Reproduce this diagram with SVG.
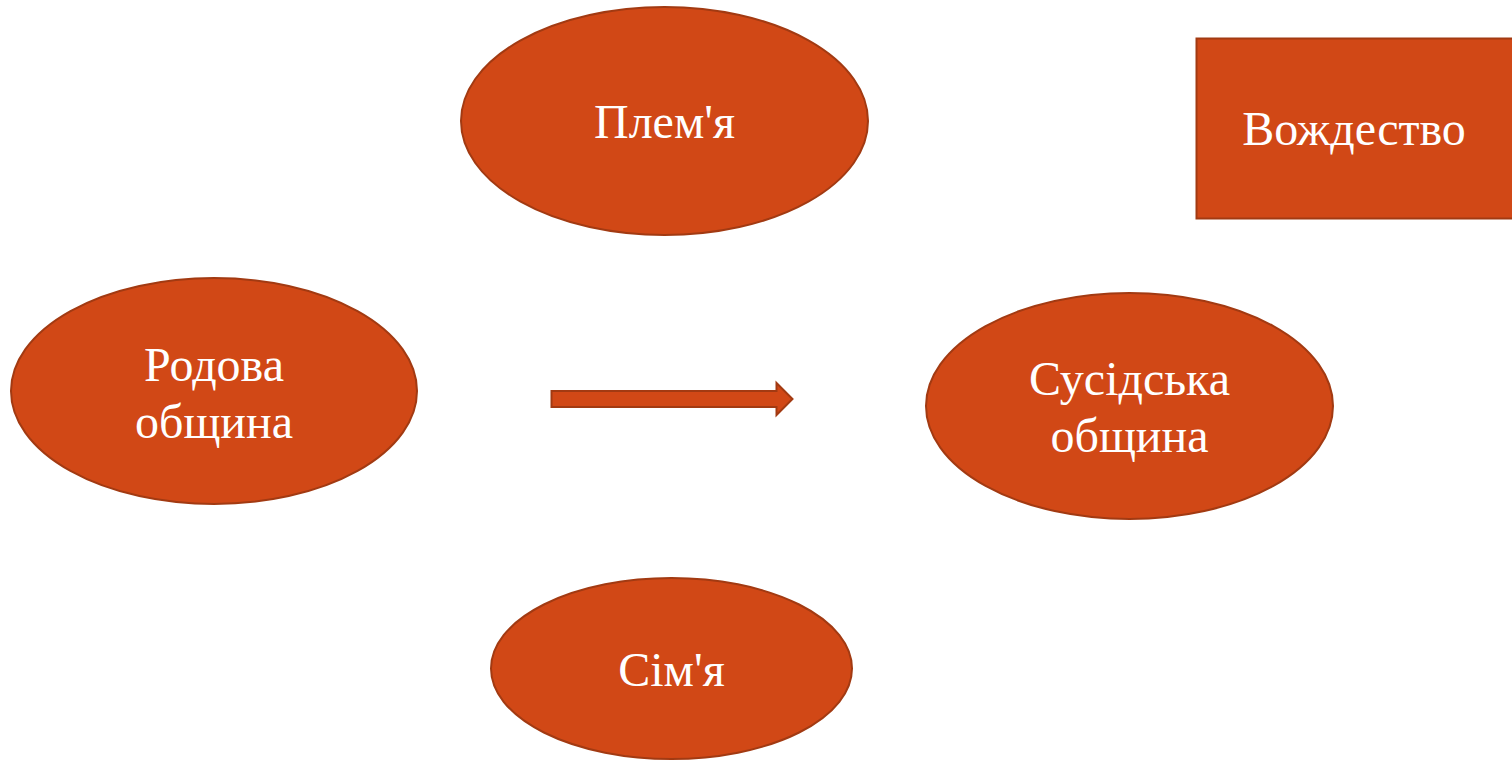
<svg xmlns="http://www.w3.org/2000/svg" width="1512" height="761" viewBox="0 0 1512 761">
<style>
.shape{fill:#D14816;stroke:#A23A12;stroke-width:2}
.lbl{font-family:"Liberation Serif","Times New Roman",serif;font-size:48px;fill:#FFFFFF;text-anchor:middle}
</style>
<rect width="1512" height="761" fill="#FFFFFF"/>
<g id="node-pleme">
<ellipse class="shape" cx="664.5" cy="121" rx="203.5" ry="114"/>
<text class="lbl" x="664.5" y="138">Плем'я</text>
</g>
<g id="node-vozhdestvo">
<rect class="shape" x="1196.5" y="38.5" width="320" height="180"/>
<text class="lbl" x="1354" y="145">Вождество</text>
</g>
<g id="node-rodova">
<ellipse class="shape" cx="214" cy="391" rx="203" ry="113"/>
<text class="lbl" x="214" y="381">Родова</text>
<text class="lbl" x="214" y="438">община</text>
</g>
<g id="node-susidska">
<ellipse class="shape" cx="1129.5" cy="406" rx="203.5" ry="113"/>
<text class="lbl" x="1129.5" y="395">Сусідська</text>
<text class="lbl" x="1129.5" y="452">община</text>
</g>
<g id="node-simya">
<ellipse class="shape" cx="671.5" cy="668.5" rx="180.5" ry="90.5"/>
<text class="lbl" x="671.5" y="686">Сім'я</text>
</g>
<g id="connectors">
<path class="shape" d="M551.5,391 L776.5,391 L776.5,383 L792.5,399 L776.5,415 L776.5,407 L551.5,407 Z"/>
</g>
</svg>
